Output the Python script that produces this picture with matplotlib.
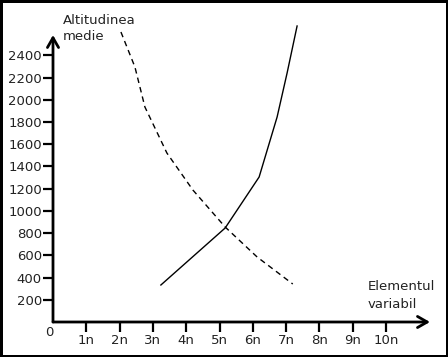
import matplotlib.pyplot as plt

# values (x in multiples of n, y in metres)
dashed_x = [2.04, 2.46, 2.76, 3.42, 4.2, 5.17, 6.13, 7.2]
dashed_y = [2610, 2295, 1935, 1521, 1188, 855, 585, 342]
solid_x = [3.24, 5.17, 6.19, 6.73, 7.03, 7.33]
solid_y = [333, 846, 1305, 1845, 2241, 2664]

y_ticks = [200, 400, 600, 800, 1000, 1200, 1400, 1600, 1800, 2000, 2200, 2400]
x_ticks = [1, 2, 3, 4, 5, 6, 7, 8, 9, 10]
x_labels = ["1n", "2n", "3n", "4n", "5n", "6n", "7n", "8n", "9n", "10n"]

W, H = 448, 357


def fx(px):
    return px / W


def fy(py):
    return 1 - py / H


def main():
    plt.rcParams["font.family"] = ["DejaVu Sans"]
    fig = plt.figure(figsize=(W / 100, H / 100), dpi=100,
                     linewidth=2.5, edgecolor="black")
    ax = fig.add_axes([fx(53), fy(322), fx(430) - fx(53), fy(35) - fy(322)])

    ax.set_xlim(0, (430 - 53) / 33.3)
    ax.set_ylim(0, (322 - 35) * 9.0)

    ax.plot(dashed_x, dashed_y, color="black", lw=1.0, linestyle=(0, (4, 3)),
            clip_on=False)
    ax.plot(solid_x, solid_y, color="black", lw=1.0, clip_on=False)

    for s in ax.spines.values():
        s.set_visible(False)

    arrow = dict(arrowstyle="->,head_length=0.7,head_width=0.4", lw=2,
                 color="black", shrinkA=0, shrinkB=0)
    ax.annotate("", xy=(1, 0), xytext=(0, 0), xycoords="axes fraction",
                arrowprops=arrow)
    ax.annotate("", xy=(0, 1), xytext=(0, 0), xycoords="axes fraction",
                arrowprops=arrow)

    ax.set_xticks(x_ticks)
    ax.set_xticklabels(x_labels)
    ax.set_yticks(y_ticks)
    ax.tick_params(direction="out", length=7, width=1.6, labelsize=9.5,
                   color="black", labelcolor="#222222")
    ax.tick_params(axis="x", pad=2)
    ax.tick_params(axis="y", pad=1)

    fig.text(fx(49), fy(332), "0", ha="center", va="center", fontsize=9.5,
             color="#222222")
    fig.text(fx(63), fy(20), "Altitudinea", ha="left", va="center",
             fontsize=9.5, color="#222222")
    fig.text(fx(63), fy(37), "medie", ha="left", va="center",
             fontsize=9.5, color="#222222")
    fig.text(fx(368), fy(287), "Elementul", ha="left", va="center",
             fontsize=9.5, color="#222222")
    fig.text(fx(368), fy(304), "variabil", ha="left", va="center",
             fontsize=9.5, color="#222222")

    fig.savefig("out.png", dpi=100)


if __name__ == "__main__":
    main()
